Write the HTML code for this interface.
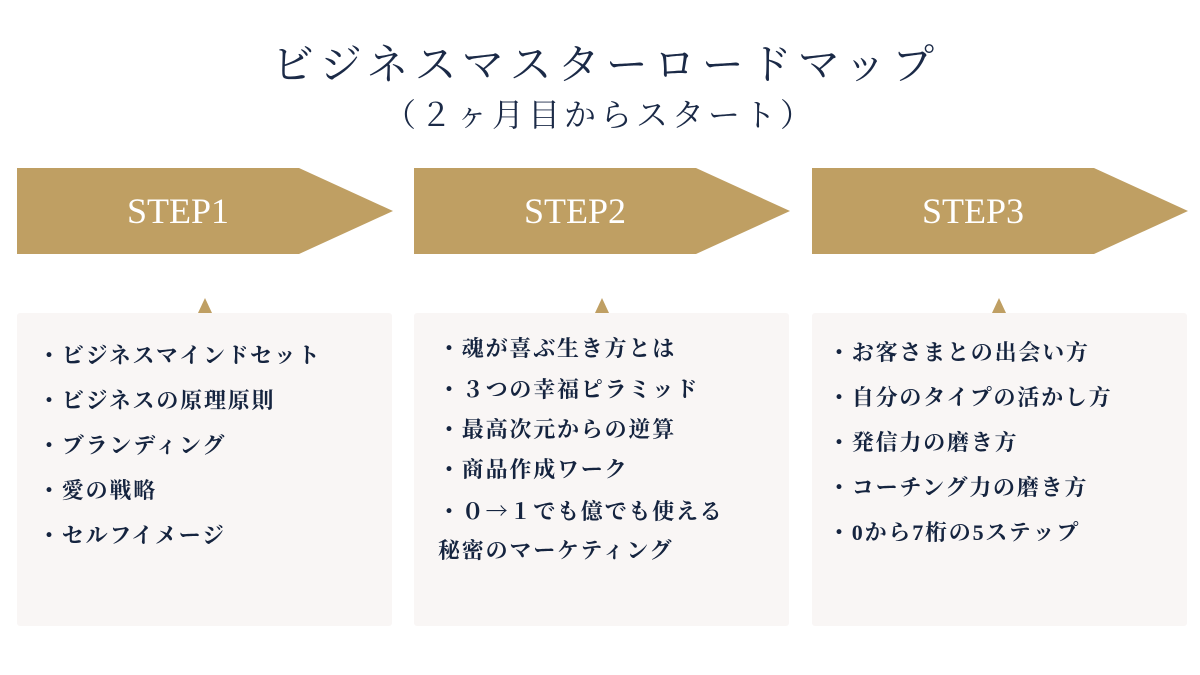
<!DOCTYPE html>
<html><head><meta charset="utf-8"><style>
body{margin:0;width:1200px;height:675px;background:#fff;position:relative;overflow:hidden;font-family:"Liberation Serif","Noto Serif CJK SC",serif;color:#1b2a47}
.t{position:absolute;left:0;width:1200px;text-align:center;white-space:nowrap}
.arr{position:absolute;top:168px;width:376px;height:86px}
.arr span{position:absolute;left:0;width:322px;top:0;line-height:86px;text-align:center;color:#fff;font-size:36px}
.box{position:absolute;top:313px;width:375px;height:313px;background:#f9f6f5;border-radius:3px}
.tri{position:absolute;top:298px;width:0;height:0;border-left:7px solid transparent;border-right:7px solid transparent;border-bottom:15px solid #bf9f63}
.li{position:absolute;font-size:22px;font-weight:bold;white-space:nowrap;letter-spacing:1.8px;line-height:1;color:#15243f}
.j{font-family:"Noto Serif CJK SC",serif}
</style></head><body>
<div class="t" style="top:32px;font-size:42px;letter-spacing:6px;padding-left:6px">ビジネスマスターロードマップ</div>
<div class="t" style="top:90px;font-size:32px;letter-spacing:4px">（２ヶ月目からスタート）</div>

<svg class="arr" style="left:17px" viewBox="0 0 376 86"><polygon points="0,0 282,0 376,43 282,86 0,86" fill="#bf9f63"/></svg>
<svg class="arr" style="left:414px" viewBox="0 0 376 86"><polygon points="0,0 282,0 376,43 282,86 0,86" fill="#bf9f63"/></svg>
<svg class="arr" style="left:812px" viewBox="0 0 376 86"><polygon points="0,0 282,0 376,43 282,86 0,86" fill="#bf9f63"/></svg>
<div class="arr" style="left:17px"><span>STEP1</span></div>
<div class="arr" style="left:414px"><span>STEP2</span></div>
<div class="arr" style="left:812px"><span>STEP3</span></div>

<div class="tri" style="left:198px"></div>
<div class="tri" style="left:595px"></div>
<div class="tri" style="left:992px"></div>
<div class="box" style="left:17px"></div>
<div class="box" style="left:414px"></div>
<div class="box" style="left:812px"></div>

<div class="li" style="left:38px;top:345px">・ビジネスマインドセット</div>
<div class="li" style="left:38px;top:390px">・ビジネスの原理原則</div>
<div class="li" style="left:38px;top:435px">・ブランディング</div>
<div class="li" style="left:38px;top:480px">・愛の戦略</div>
<div class="li" style="left:38px;top:525px">・セルフイメージ</div>

<div class="li" style="left:438px;top:338px">・魂が喜ぶ生き方とは</div>
<div class="li" style="left:438px;top:378px">・<span class="j">３</span>つの幸福ピラミッド</div>
<div class="li" style="left:438px;top:419px">・最高次元からの逆算</div>
<div class="li" style="left:438px;top:459px">・商品作成ワーク</div>
<div class="li j" style="left:438px;top:500px">・０→１でも億でも使える</div>
<div class="li" style="left:438px;top:540px">秘密のマーケティング</div>

<div class="li" style="left:828px;top:342px">・お客さまとの出会い方</div>
<div class="li" style="left:828px;top:387px">・自分のタイプの活かし方</div>
<div class="li" style="left:828px;top:432px">・発信力の磨き方</div>
<div class="li" style="left:828px;top:477px">・コーチング力の磨き方</div>
<div class="li" style="left:828px;top:522px">・0から7桁の5ステップ</div>
</body></html>
